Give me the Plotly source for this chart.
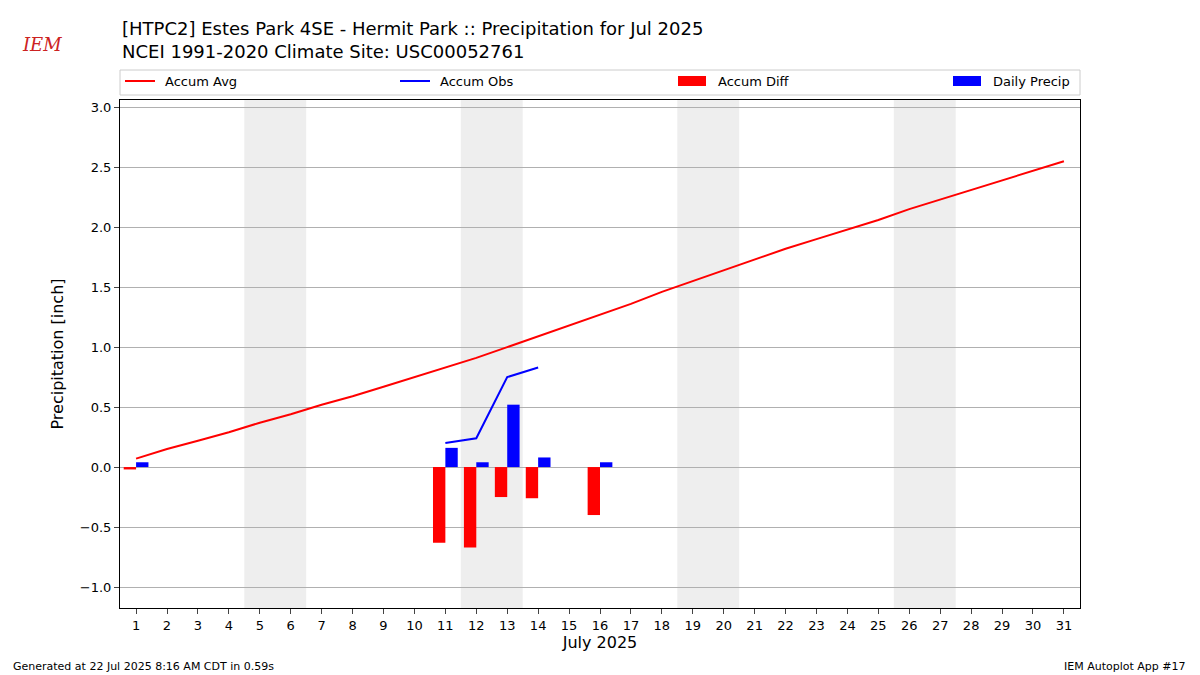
import plotly.graph_objects as go

days = list(range(1, 32))
accum_avg = [0.07,0.15,0.22,0.29,0.37,0.44,0.52,0.59,0.67,0.75,0.83,0.91,1.00,1.09,1.18,1.27,1.36,1.46,1.55,1.64,1.73,1.82,1.90,1.98,2.06,2.15,2.23,2.31,2.39,2.47,2.55]
obs_days = [11, 12, 13, 14]
accum_obs = [0.20, 0.24, 0.75, 0.83]
diff_days = [1, 11, 12, 13, 14, 16]
accum_diff = [-0.02, -0.63, -0.67, -0.25, -0.26, -0.40]
precip_days = [1, 11, 12, 13, 14, 16]
daily_precip = [0.04, 0.16, 0.04, 0.52, 0.08, 0.04]
weekends = [(4.5, 6.5), (11.5, 13.5), (18.5, 20.5), (25.5, 27.5)]

fig = go.Figure()
fig.add_trace(go.Scatter(x=days, y=accum_avg, mode="lines", line=dict(color="red", width=2), name="Accum Avg"))
fig.add_trace(go.Scatter(x=obs_days, y=accum_obs, mode="lines", line=dict(color="blue", width=2), name="Accum Obs"))
fig.add_trace(go.Bar(x=diff_days, y=accum_diff, width=0.4, offset=-0.4, marker=dict(color="red", line_width=0), name="Accum Diff"))
fig.add_trace(go.Bar(x=precip_days, y=daily_precip, width=0.4, offset=0, marker=dict(color="blue", line_width=0), name="Daily Precip"))

for a, b in weekends:
    fig.add_vrect(x0=a, x1=b, fillcolor="#eeeeee", line_width=0, layer="below")

# manual legend; positions given in screen pixels (page is shown offset by 8px)
OFF = 8
W, L, B, H = 960, 120, 608, 508
px = lambda p: (p - L) / W
py = lambda p: (B - p) / H
fig.add_shape(type="rect", xref="paper", yref="paper", x0=px(120), x1=px(1080), y0=py(95), y1=py(70),
              line=dict(color="#cccccc", width=1), fillcolor="white")
items = [("Accum Avg", "line", "red", 125), ("Accum Obs", "line", "blue", 400),
         ("Accum Diff", "rect", "red", 678), ("Daily Precip", "rect", "blue", 953)]
for name, kind, col, x in items:
    if kind == "line":
        fig.add_shape(type="line", xref="paper", yref="paper", x0=px(x), x1=px(x + 30), y0=py(81), y1=py(81),
                      line=dict(color=col, width=2))
    else:
        fig.add_shape(type="rect", xref="paper", yref="paper", x0=px(x), x1=px(x + 28), y0=py(86), y1=py(76),
                      line_width=0, fillcolor=col)
    fig.add_annotation(text=name, xref="paper", yref="paper", x=px(x + 38), y=py(81), xanchor="left", yanchor="middle",
                       showarrow=False, font=dict(size=13))

fig.update_layout(
    width=1200, height=675, template="none", plot_bgcolor="white", paper_bgcolor="white",
    font=dict(family="DejaVu Sans", size=13, color="black"),
    margin=dict(l=120 - OFF, r=120 + OFF, t=100 - OFF, b=67 + OFF),
    showlegend=False,
    barmode="overlay",
    xaxis=dict(range=[0.48, 31.52], tickvals=days, ticktext=[str(d) for d in days], showgrid=False, zeroline=False,
               showline=True, mirror=True, linecolor="black", ticks="outside",
               title=dict(text="July 2025", font=dict(size=16), standoff=5)),
    yaxis=dict(range=[-1.175, 3.06], tickvals=[-1, -0.5, 0, 0.5, 1, 1.5, 2, 2.5, 3],
               ticktext=["\u22121.0", "\u22120.5", "0.0", "0.5", "1.0", "1.5", "2.0", "2.5", "3.0"],
               showgrid=True, gridcolor="#b0b0b0", zeroline=False, showline=True, mirror=True, linecolor="black", ticks="outside",
               title=dict(text="Precipitation [inch]", font=dict(size=16), standoff=12)),
)
fig.add_annotation(text="[HTPC2] Estes Park 4SE - Hermit Park :: Precipitation for Jul 2025<br>NCEI 1991-2020 Climate Site: USC00052761",
                   xref="paper", yref="paper", x=px(120), y=py(40), xanchor="left", yanchor="middle", align="left",
                   showarrow=False, font=dict(size=18))
fig.add_annotation(text="Generated at 22 Jul 2025 8:16 AM CDT in 0.59s", xref="paper", yref="paper", x=px(11), y=py(666),
                   xanchor="left", yanchor="middle", showarrow=False, font=dict(size=11))
fig.add_annotation(text="IEM Autoplot App #17", xref="paper", yref="paper", x=px(1188), y=py(666),
                   xanchor="right", yanchor="middle", showarrow=False, font=dict(size=11))
fig.add_annotation(text="<i>IEM</i>", xref="paper", yref="paper", x=px(20), y=py(45), xanchor="left", yanchor="middle",
                   showarrow=False, font=dict(size=18, color="#cc2222", family="DejaVu Serif"))
fig.write_html("out.html")
